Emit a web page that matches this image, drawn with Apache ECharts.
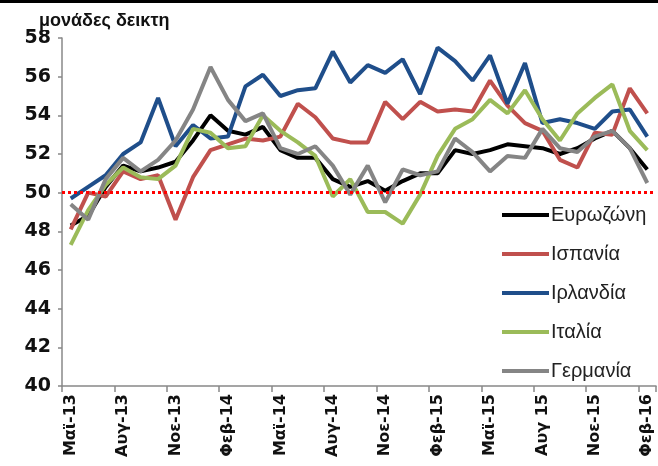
<!DOCTYPE html>
<html>
<head>
<meta charset="utf-8">
<script src="https://cdn.jsdelivr.net/npm/echarts@6/dist/echarts.min.js"></script>
<style>
  html, body { margin: 0; padding: 0; background: #fff; }
  #chart { width: 658px; height: 466px; }
</style>
</head>
<body>
<div id="chart"></div>
<script>
// μήνες Μάιος 2013 - Φεβρουάριος 2016
const months = [
  'Μαϊ-13','Ιουν-13','Ιουλ-13','Αυγ-13','Σεπ-13','Οκτ-13','Νοε-13','Δεκ-13',
  'Ιαν-14','Φεβ-14','Μαρ-14','Απρ-14','Μαϊ-14','Ιουν-14','Ιουλ-14','Αυγ-14',
  'Σεπ-14','Οκτ-14','Νοε-14','Δεκ-14','Ιαν-15','Φεβ-15','Μαρ-15','Απρ-15',
  'Μαϊ-15','Ιουν-15','Ιουλ-15','Αυγ 15','Σεπ-15','Οκτ-15','Νοε-15','Δεκ-15',
  'Ιαν-16','Φεβ-16'
];

const eurozone = [48.3,48.8,50.3,51.4,51.1,51.3,51.6,52.7,54.0,53.2,53.0,53.4,52.2,51.8,51.8,50.7,
  50.3,50.6,50.1,50.6,51.0,51.0,52.2,52.0,52.2,52.5,52.4,52.3,52.0,52.3,52.8,53.2,52.3,51.2];
const spain = [48.1,50.0,49.8,51.1,50.7,50.9,48.6,50.8,52.2,52.5,52.8,52.7,52.9,54.6,53.9,52.8,
  52.6,52.6,54.7,53.8,54.7,54.2,54.3,54.2,55.8,54.5,53.6,53.2,51.7,51.3,53.1,53.0,55.4,54.1];
const ireland = [49.7,50.3,50.9,52.0,52.6,54.9,52.4,53.5,52.8,52.9,55.5,56.1,55.0,55.3,55.4,57.3,
  55.7,56.6,56.2,56.9,55.1,57.5,56.8,55.8,57.1,54.6,56.7,53.6,53.8,53.6,53.3,54.2,54.3,52.9];
const italy = [47.3,49.1,50.4,51.3,50.8,50.7,51.4,53.3,53.1,52.3,52.4,54.0,53.2,52.6,51.9,49.8,
  50.7,49.0,49.0,48.4,49.9,51.9,53.3,53.8,54.8,54.1,55.3,53.8,52.7,54.1,54.9,55.6,53.2,52.2];
const germany = [49.4,48.6,50.7,51.8,51.1,51.7,52.7,54.3,56.5,54.8,53.7,54.1,52.3,52.0,52.4,51.4,
  49.9,51.4,49.5,51.2,50.9,51.1,52.8,52.1,51.1,51.9,51.8,53.3,52.3,52.1,52.9,53.2,52.3,50.5];

const threshold = 50;

const myChart = echarts.init(document.getElementById('chart'));

function mkLine(name, data, color) {
  return {
    name: name,
    type: 'line',
    data: data,
    symbol: 'none',
    smooth: false,
    lineStyle: { color: color, width: 4 },
    itemStyle: { color: color }
  };
}

const series = [
  mkLine('Ευρωζώνη', eurozone, '#000000'),
  mkLine('Ισπανία', spain, '#c0504d'),
  mkLine('Ιρλανδία', ireland, '#1f4e8a'),
  mkLine('Ιταλία', italy, '#9bbb59'),
  mkLine('Γερμανία', germany, '#858585')
];
// κόκκινη διακεκομμένη γραμμή στο 50
series[0].markLine = {
  silent: true,
  symbol: 'none',
  label: { show: false },
  lineStyle: { color: '#ff0000', type: [3, 3], width: 3 },
  data: [{ yAxis: threshold }]
};

myChart.setOption({
  animation: false,
  backgroundColor: '#fff',
  title: {
    text: 'μονάδες δεικτη',
    left: 37,
    top: 11,
    padding: [1, 2, 0, 2],
    backgroundColor: '#fff',
    textStyle: {
      fontFamily: 'Liberation Sans',
      fontSize: 18,
      fontWeight: 'bold',
      color: '#111'
    }
  },
  graphic: [{
    type: 'rect',
    left: 0, top: 0,
    shape: { width: 658, height: 3 },
    style: { fill: '#000' }
  }],
  grid: { left: 62, right: 2, top: 38, bottom: 80 },
  legend: {
    orient: 'vertical',
    left: 497,
    top: 200,
    itemWidth: 47,
    itemHeight: 4,
    itemGap: 19,
    icon: 'rect',
    textStyle: { fontFamily: 'Liberation Sans', fontSize: 20, color: '#222', padding: [0, 0, 0, -3] },
    data: ['Ευρωζώνη', 'Ισπανία', 'Ιρλανδία', 'Ιταλία', 'Γερμανία']
  },
  xAxis: {
    type: 'category',
    data: months,
    boundaryGap: true,
    axisLine: { lineStyle: { color: '#888', width: 1.5 } },
    axisTick: { show: true, interval: 2, length: 6, lineStyle: { color: '#888', width: 1.5 } },
    axisLabel: {
      interval: 2,
      rotate: 90,
      margin: 8,
      fontFamily: 'DejaVu Sans',
      fontSize: 16,
      fontWeight: 'bold',
      color: '#111'
    },
    splitLine: { show: false }
  },
  yAxis: {
    type: 'value',
    min: 40,
    max: 58,
    interval: 2,
    axisLine: { show: true, lineStyle: { color: '#888', width: 1.5 } },
    axisTick: { show: true, length: 4, lineStyle: { color: '#888', width: 1.5 } },
    axisLabel: {
      margin: 11,
      fontFamily: 'DejaVu Sans',
      fontSize: 19,
      fontWeight: 'bold',
      color: '#111'
    },
    splitLine: { show: false }
  },
  series: series
});
</script>
</body>
</html>
